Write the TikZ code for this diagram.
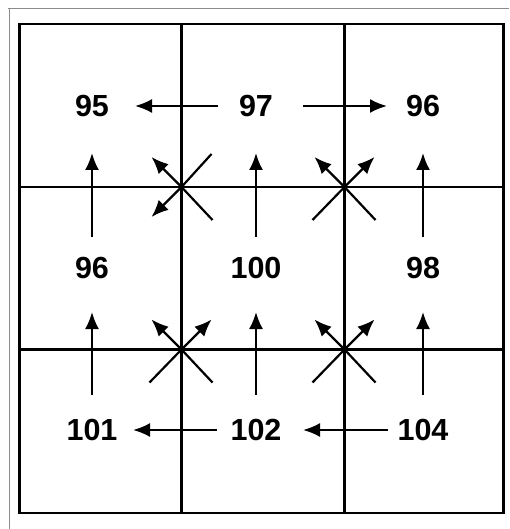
\documentclass[tikz,border=0pt]{standalone}
\usepackage{fontspec}
\setmainfont{Liberation Sans}
\usetikzlibrary{arrows.meta,calc}
\begin{document}
\begin{tikzpicture}[x=1pt,y=-1pt,
  grid/.style={line width=2.3pt, black},
  frame/.style={line width=0.8pt, black!45},
  arr/.style={line width=2.2pt, -{Latex[length=17pt,width=14pt]}},
  plain/.style={line width=2.2pt},
  val/.style={inner sep=0pt, font=\fontsize{30.5}{32}\selectfont\bfseries}]
\useasboundingbox (0,0) rectangle (509,529);
% outer faint frame
\draw[frame] (8,8) -- (509,8);
\draw[frame] (9.5,8) -- (9.5,529);
% grid
\draw[grid] (19.5,24) rectangle (503.5,513);
\draw[grid] (181.5,24) -- (181.5,513);
\draw[grid] (344.5,24) -- (344.5,513);
\draw[grid] (19.5,187) -- (503.5,187);
\draw[grid] (19.5,349.5) -- (503.5,349.5);
% values
\node[val] (a95)  at (92,106)  {95};
\node[val] (a97)  at (256,106) {97};
\node[val] (a96)  at (423,106) {96};
\node[val] (b96)  at (92,268)  {96};
\node[val] (b100) at (256,268) {100};
\node[val] (b98)  at (423,268) {98};
\node[val] (c101) at (92,430)  {101};
\node[val] (c102) at (256,430) {102};
\node[val] (c104) at (423,430) {104};
% horizontal arrows
\draw[arr, shorten <=38pt, shorten >=43pt] (a97.center) -- (a95.center);
\draw[arr, shorten <=47pt, shorten >=36pt] (a97.center) -- (a96.center);
\draw[arr, shorten <=39pt, shorten >=41pt] (c102.center) -- (c101.center);
\draw[arr, shorten <=35pt, shorten >=47pt] (c104.center) -- (c102.center);
% vertical arrows
\draw[arr, shorten <=31pt, shorten >=47pt] (b96.center) -- (a95.center);
\draw[arr, shorten <=31pt, shorten >=47pt] (b100.center) -- (a97.center);
\draw[arr, shorten <=31pt, shorten >=47pt] (b98.center) -- (a96.center);
\draw[arr, shorten <=35pt, shorten >=44pt] (c101.center) -- (b96.center);
\draw[arr, shorten <=35pt, shorten >=44pt] (c102.center) -- (b100.center);
\draw[arr, shorten <=35pt, shorten >=44pt] (c104.center) -- (b98.center);
% crossings
\coordinate (x1) at (181.5,187);
\coordinate (x2) at (344.5,187);
\coordinate (x3) at (181.5,349.5);
\coordinate (x4) at (344.5,349.5);
\foreach \c in {x1,x2,x3,x4}{
  \coordinate (\c nw) at ($(\c)+(-30,-30)$);
  \coordinate (\c ne) at ($(\c)+(30,-30)$);
  \coordinate (\c sw) at ($(\c)+(-30,30)$);
  \coordinate (\c swp) at ($(\c)+(-32,33)$);
  \coordinate (\c sep) at ($(\c)+(31,33)$);
  \coordinate (\c nep) at ($(\c)+(30,-33)$);
}
% top-left: arrows NW and SW, plain NE and SE
\draw[arr] (x1) -- (x1nw);
\draw[arr] (x1) -- (x1sw);
\draw[plain] (x1) -- (x1nep);
\draw[plain] (x1) -- (x1sep);
% others: arrows NW and NE, plain SW and SE
\foreach \c in {x2,x3,x4}{
  \draw[arr] (\c) -- (\c nw);
  \draw[arr] (\c) -- (\c ne);
  \draw[plain] (\c) -- (\c swp);
  \draw[plain] (\c) -- (\c sep);
}
\end{tikzpicture}
\end{document}
